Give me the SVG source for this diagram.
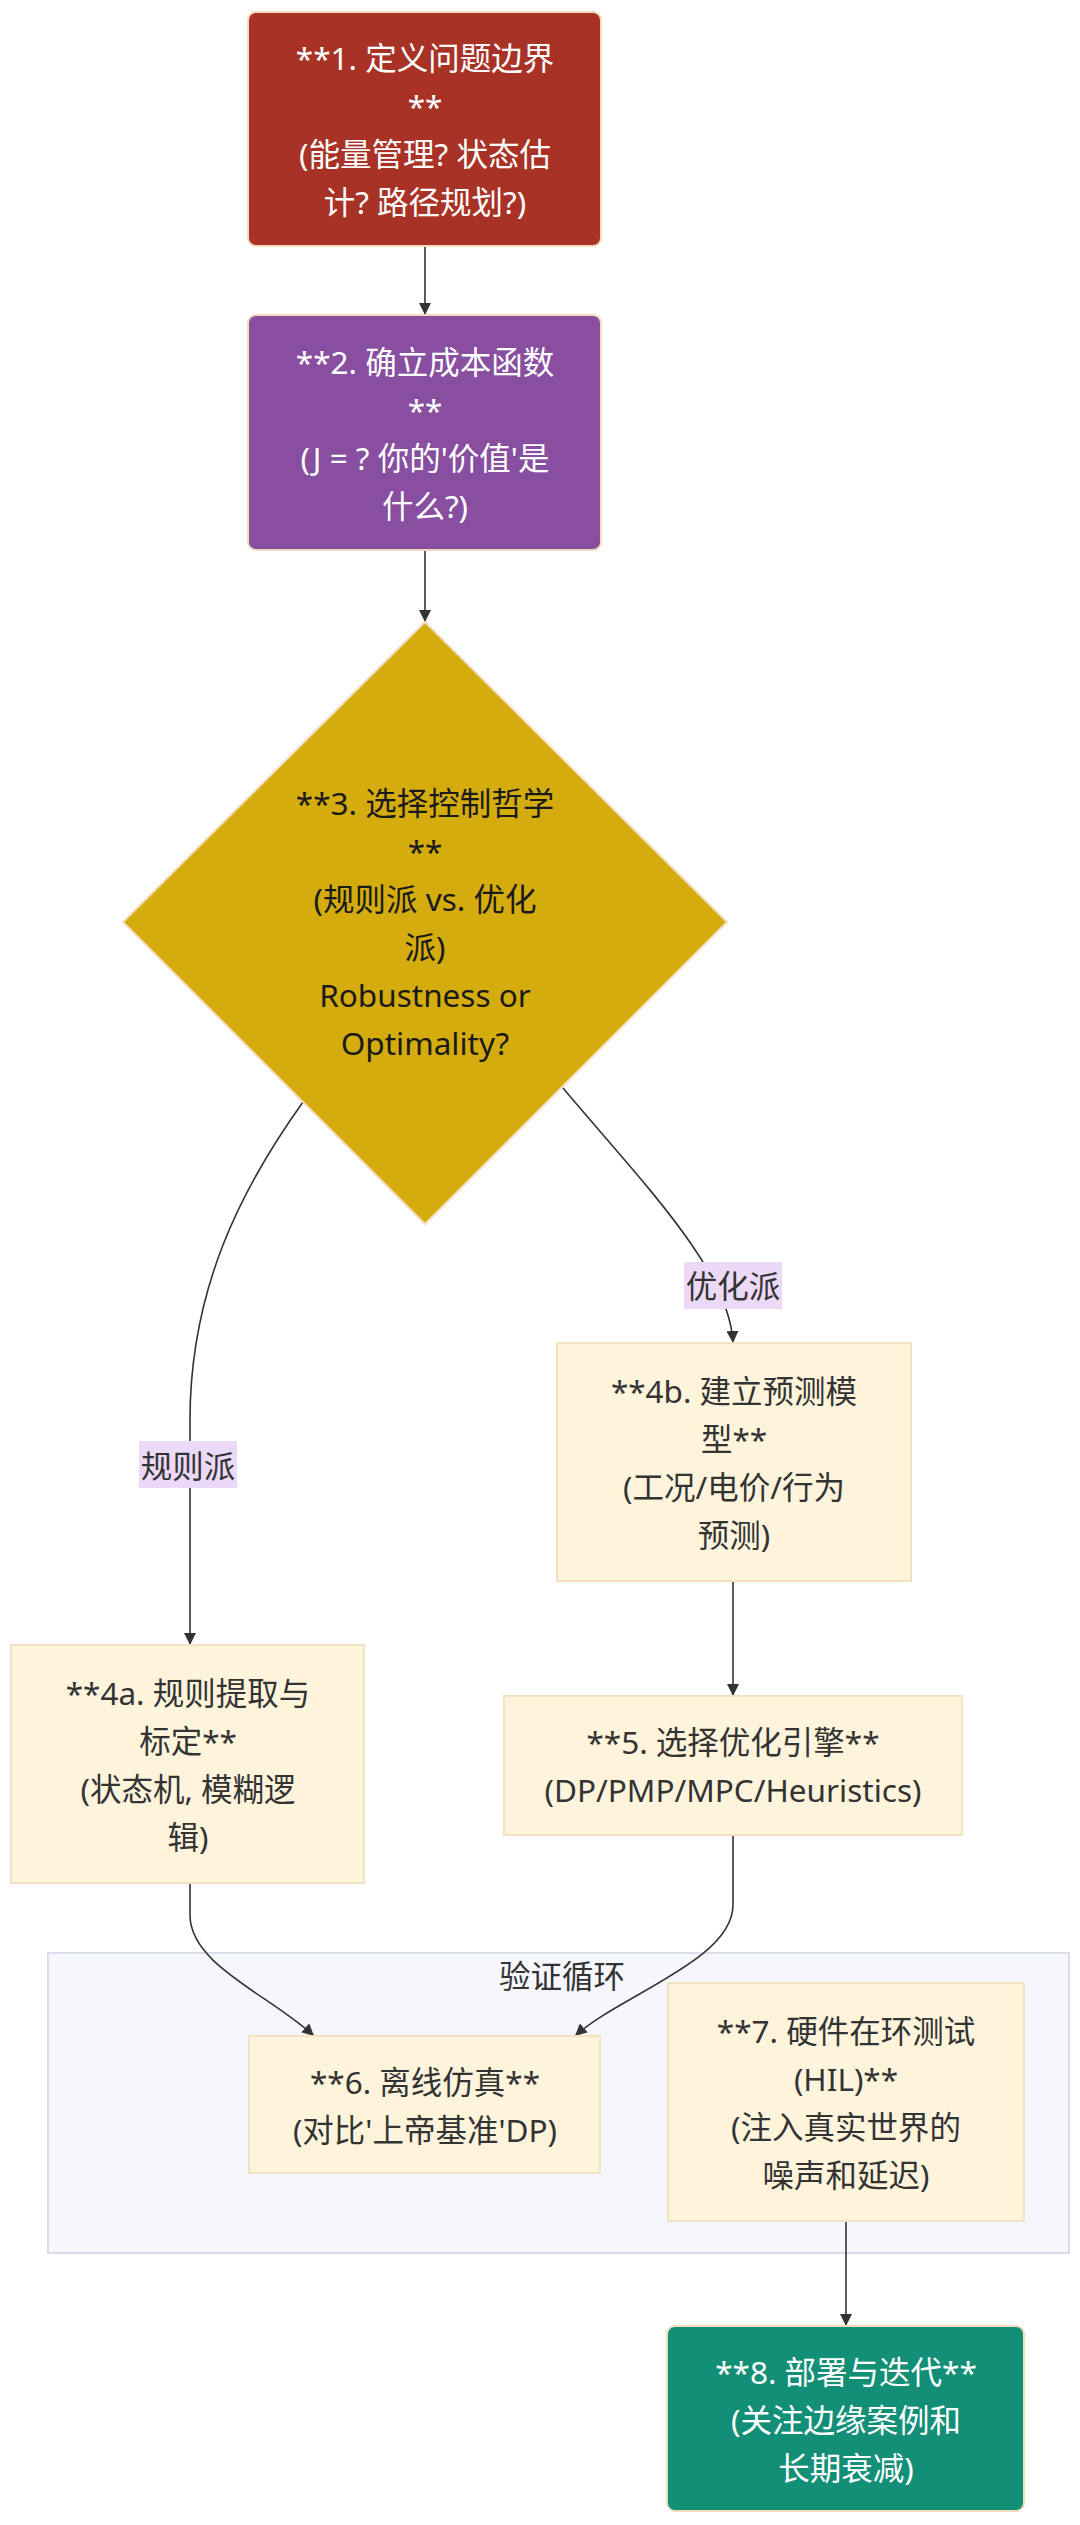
<svg xmlns="http://www.w3.org/2000/svg" width="1080" height="2525" viewBox="0 0 1080 2525">
<defs>
<style>
text{font-family:"Noto Sans","Noto Sans CJK SC",sans-serif;font-size:31.5px;text-anchor:middle;dominant-baseline:central;fill:#333}
.w{fill:#ffffff}
.k{fill:#1a1a1a}
.dark{stroke:#f2dcbc;stroke-width:2}
.light{fill:#fef4dc;stroke:#f2e2bf;stroke-width:2}
.edge{fill:none;stroke:#333;stroke-width:1.6}
.lbl{fill:#ebd9f7}
</style>
<marker id="arr" viewBox="0 0 10 10" refX="10" refY="5" markerWidth="12" markerHeight="12" markerUnits="userSpaceOnUse" orient="auto">
<path d="M0,0 L10,5 L0,10 z" fill="#333"/>
</marker>
</defs>
<rect width="1080" height="2525" fill="#ffffff"/>

<g id="cluster-verify">
<rect x="48" y="1953" width="1021" height="300" fill="#f5f7fd" stroke="#d9deea" stroke-width="2"/>
<text x="562" y="1975">验证循环</text>
</g>

<g id="connectors">
<path class="edge" d="M425,246 L425,315" marker-end="url(#arr)"/>
<path class="edge" d="M425,550 L425,622" marker-end="url(#arr)"/>
<path class="edge" d="M563,1088 C640,1180 730,1270 733,1343" marker-end="url(#arr)"/>
<path class="edge" d="M303,1102 C240,1190 190,1290 190,1420 L190,1645" marker-end="url(#arr)"/>
<path class="edge" d="M733,1581 L733,1696" marker-end="url(#arr)"/>
<path class="edge" d="M190,1883 L190,1915 C190,1965 270,1995 314,2036" marker-end="url(#arr)"/>
<path class="edge" d="M733,1835 L733,1905 C733,1960 620,1995 575,2036" marker-end="url(#arr)"/>
<path class="edge" d="M846,2221 L846,2326" marker-end="url(#arr)"/>
<g id="label-opt">
<rect class="lbl" x="684" y="1262" width="98" height="47"/>
<text x="733" y="1285">优化派</text>
</g>
<g id="label-rule">
<rect class="lbl" x="139" y="1441" width="98" height="47"/>
<text x="188" y="1465">规则派</text>
</g>
</g>

<g id="node1">
<rect class="dark" x="248" y="12" width="353" height="234" rx="8" fill="#a93226"/>
<text class="w" x="425" y="57">**1. 定义问题边界</text>
<text class="w" x="425" y="105">**</text>
<text class="w" x="425" y="153">(能量管理? 状态估</text>
<text class="w" x="425" y="201">计? 路径规划?)</text>
</g>

<g id="node2">
<rect class="dark" x="248" y="315" width="353" height="235" rx="8" fill="#884ea0"/>
<text class="w" x="425" y="361">**2. 确立成本函数</text>
<text class="w" x="425" y="409">**</text>
<text class="w" x="425" y="457">(J = ? 你的'价值'是</text>
<text class="w" x="425" y="505">什么?)</text>
</g>

<g id="node3">
<polygon class="dark" points="425,622 727,922 425,1224 123,922" fill="#d4ac0d"/>
<text class="k" x="425" y="802">**3. 选择控制哲学</text>
<text class="k" x="425" y="850">**</text>
<text class="k" x="425" y="898">(规则派 vs. 优化</text>
<text class="k" x="425" y="946">派)</text>
<text class="k" x="425" y="994">Robustness or</text>
<text class="k" x="425" y="1042">Optimality?</text>
</g>

<g id="node4b">
<rect class="light" x="557" y="1343" width="354" height="238"/>
<text x="734" y="1390">**4b. 建立预测模</text>
<text x="734" y="1438">型**</text>
<text x="734" y="1486">(工况/电价/行为</text>
<text x="734" y="1534">预测)</text>
</g>

<g id="node4a">
<rect class="light" x="11" y="1645" width="353" height="238"/>
<text x="188" y="1692">**4a. 规则提取与</text>
<text x="188" y="1740">标定**</text>
<text x="188" y="1788">(状态机, 模糊逻</text>
<text x="188" y="1836">辑)</text>
</g>

<g id="node5">
<rect class="light" x="504" y="1696" width="458" height="139"/>
<text x="733" y="1741">**5. 选择优化引擎**</text>
<text x="733" y="1789">(DP/PMP/MPC/Heuristics)</text>
</g>

<g id="node6">
<rect class="light" x="249" y="2036" width="351" height="137"/>
<text x="425" y="2081">**6. 离线仿真**</text>
<text x="425" y="2129">(对比'上帝基准'DP)</text>
</g>

<g id="node7">
<rect class="light" x="668" y="1983" width="356" height="238"/>
<text x="846" y="2030">**7. 硬件在环测试</text>
<text x="846" y="2078">(HIL)**</text>
<text x="846" y="2126">(注入真实世界的</text>
<text x="846" y="2174">噪声和延迟)</text>
</g>

<g id="node8">
<rect class="dark" x="667" y="2326" width="357" height="185" rx="8" fill="#148f77"/>
<text class="w" x="846" y="2371">**8. 部署与迭代**</text>
<text class="w" x="846" y="2419">(关注边缘案例和</text>
<text class="w" x="846" y="2467">长期衰减)</text>
</g>
</svg>
